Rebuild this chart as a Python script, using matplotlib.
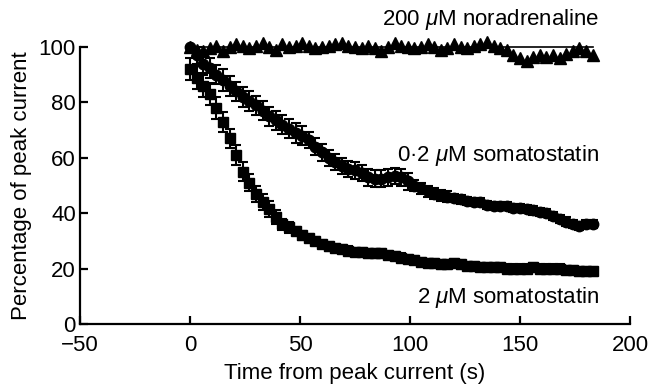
import matplotlib
matplotlib.use("Agg")
import matplotlib.pyplot as plt

plt.rcParams['font.family'] = ['Liberation Sans', 'DejaVu Sans']
plt.rcParams['mathtext.fontset'] = 'custom'
plt.rcParams['mathtext.it'] = 'Liberation Sans:italic'
plt.rcParams['mathtext.rm'] = 'Liberation Sans'

# time points (s)
t = list(range(0, 184, 3))

# 200 uM noradrenaline
nora = [100, 99, 98.5, 99.5, 100.5, 98.5, 100, 101, 100.5, 99.5,
        100.5, 101.5, 100, 99, 101, 100, 100.5, 101.5, 100.5, 99.5,
        100, 100.5, 101, 101.5, 100.5, 100, 99.5, 100.5, 99.5, 98.5,
        100, 101.5, 100.5, 100, 99.5, 100, 101, 100, 99, 99.5,
        101, 100, 99.5, 100.5, 101, 102, 100.5, 99.5, 99, 97,
        96, 95, 96.5, 97, 96.5, 97, 96, 97.5, 98.5, 99.5,
        98.5, 97]

# 0.2 uM somatostatin
soma_low = [100, 97, 94, 92.5, 90, 88, 86, 84, 82, 80.5,
            79, 77, 75, 73.5, 72, 70.5, 69, 68, 66.5, 64,
            62, 60, 58.5, 57, 56, 55.5, 54.5, 53, 52.5, 52.5,
            53, 53.5, 53, 51.5, 50, 49, 48, 47, 46.5, 46,
            45.5, 45, 44.5, 44, 44, 43, 42.5, 42.5, 42.5, 42,
            42, 41.5, 41, 40.5, 40, 39, 38, 37, 36, 35.5,
            36, 36]
soma_low_err = [0, 3, 3.5, 3.5, 3.5, 4, 3.5, 3.5, 3.5, 3.5,
                3.5, 3.5, 3.5, 3.5, 3.5, 3.5, 3.5, 3.5, 3, 3,
                3, 3, 3, 3, 3, 3, 3, 3, 3, 3,
                3, 3, 3, 3, 2, 2, 2, 2, 2, 2,
                1.5, 1.5, 1.5, 1.5, 1.5, 1.5, 1.5, 1.5, 1.5, 1.5,
                1.5, 1.5, 1.5, 1.5, 1.5, 1.5, 1.5, 1.5, 1.5, 1.5,
                1.5, 1.5]

# 2 uM somatostatin
soma_high = [92, 89, 86, 83, 78, 73, 67, 61, 55, 51,
             47, 44, 41.5, 38.5, 36, 35, 33.5, 32, 31, 30,
             29, 28, 27.5, 27, 26.5, 26, 26, 25.5, 25.5, 25.5,
             25, 24.5, 24, 23.5, 23, 22.5, 22, 22, 21.5, 21.5,
             22, 21.5, 21, 21, 20.5, 20.5, 20.5, 20.5, 20, 20,
             20, 20, 20.5, 20, 20, 20, 20, 19.5, 19.5, 19,
             19, 19]
soma_high_err = [4, 4, 4, 4, 4, 3.5, 3.5, 3.5, 3.5, 3,
                 3, 3, 3, 2.5, 2, 2, 1.5, 1.5, 1.5, 1.5,
                 1.5, 1.5, 1.5, 1.5, 1.5, 1.5, 1.5, 1.5, 1.5, 1.5,
                 1.5, 1.5, 1.5, 1.5, 1.5, 1.5, 1.5, 1.5, 1.5, 1.5,
                 1.5, 1.5, 1.5, 1.5, 1.5, 1.5, 1.5, 1.5, 1.5, 1.5,
                 1.5, 1.5, 1.5, 1.5, 1.5, 1.5, 1.5, 1.5, 1.5, 1.5,
                 1.5, 1.5]

ref_level = 100

fig = plt.figure(figsize=(6.58, 3.86), dpi=100)
ax = fig.add_axes([0.1216, 0.1606, 0.836, 0.7174])

ax.plot([t[0], t[-1]], [ref_level, ref_level], color='black', lw=1.2, clip_on=False)
ax.plot(t, nora, linestyle='none', marker='^', ms=8, color='black', clip_on=False)
ax.errorbar(t, soma_low, yerr=soma_low_err, fmt='o', ms=7.5, color='black',
            ecolor='black', elinewidth=1.5, capsize=3.5, capthick=1.5, clip_on=False)
ax.errorbar(t, soma_high, yerr=soma_high_err, fmt='s', ms=7, color='black',
            ecolor='black', elinewidth=1.5, capsize=3.5, capthick=1.5, clip_on=False)

ax.set_xlim(-50, 200)
ax.set_ylim(0, 100)
ax.set_xticks([-50, 0, 50, 100, 150, 200])
ax.set_yticks([0, 20, 40, 60, 80, 100])
ax.spines['top'].set_visible(False)
ax.spines['right'].set_visible(False)
for s in ['left', 'bottom']:
    ax.spines[s].set_linewidth(1.6)
ax.tick_params(direction='in', length=6, width=1.6, labelsize=16)
ax.tick_params(axis='y', pad=3)
ax.tick_params(axis='x', pad=8)

ax.set_xlabel('Time from peak current (s)', fontsize=16, labelpad=5)
ax.set_ylabel('Percentage of peak current', fontsize=16, labelpad=5)

ax.text(186, 110, r'200 $\mu$M noradrenaline', ha='right', va='center', fontsize=16)
ax.text(186, 61, r'0·2 $\mu$M somatostatin', ha='right', va='center', fontsize=16)
ax.text(186, 9.5, r'2 $\mu$M somatostatin', ha='right', va='center', fontsize=16)

fig.savefig('out.png', dpi=100)
